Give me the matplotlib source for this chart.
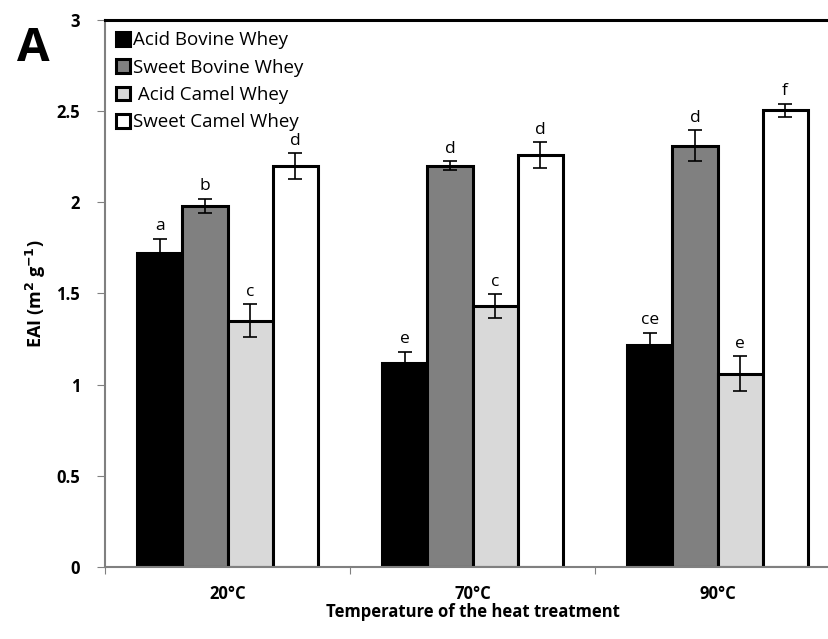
import numpy as np
from matplotlib import pyplot as plt

plt.rcParams['font.family'] = ['Open Sans', 'DejaVu Sans']

temps = ["20°C", "70°C", "90°C"]
series = ["Acid Bovine Whey", "Sweet Bovine Whey", " Acid Camel Whey", "Sweet Camel Whey"]
colors = ["#000000", "#808080", "#d9d9d9", "#ffffff"]

acid_bovine = [1.72, 1.12, 1.22]
sweet_bovine = [1.98, 2.20, 2.31]
acid_camel = [1.35, 1.43, 1.06]
sweet_camel = [2.20, 2.26, 2.505]

err_acid_bovine = [0.08, 0.06, 0.065]
err_sweet_bovine = [0.04, 0.025, 0.085]
err_acid_camel = [0.09, 0.065, 0.095]
err_sweet_camel = [0.07, 0.07, 0.035]

letters_acid_bovine = ["a", "e", "ce"]
letters_sweet_bovine = ["b", "d", "d"]
letters_acid_camel = ["c", "c", "e"]
letters_sweet_camel = ["d", "d", "f"]

values = [acid_bovine, sweet_bovine, acid_camel, sweet_camel]
errors = [err_acid_bovine, err_sweet_bovine, err_acid_camel, err_sweet_camel]
letters = [letters_acid_bovine, letters_sweet_bovine, letters_acid_camel, letters_sweet_camel]

fig = plt.figure(figsize=(8.29, 6.39), dpi=100)
ax = fig.add_axes([0.1267, 0.1127, 0.8866, 0.856])

x = np.arange(len(temps))
w = 0.184
for i in range(4):
    pos = x + (i - 1.5) * w
    ax.bar(pos, values[i], w, color=colors[i], edgecolor='black', linewidth=2.2,
           label=series[i], zorder=2)
    ax.errorbar(pos, values[i], yerr=errors[i], fmt='none', ecolor='black',
                elinewidth=1.2, capsize=5, capthick=1.2, zorder=3)
    for j in range(len(temps)):
        ax.text(pos[j], values[i][j] + errors[i][j] + 0.025, letters[i][j],
                ha='center', va='bottom', fontsize=12.5)

ax.set_xlim(-0.5, 2.5)
ax.set_ylim(0, 3)
ax.set_yticks([0, 0.5, 1, 1.5, 2, 2.5, 3])
ax.set_yticklabels(["0", "0.5", "1", "1.5", "2", "2.5", "3"], fontweight='bold', fontsize=12)
ax.set_xticks([-0.5, 0.5, 1.5, 2.5])
ax.set_xticklabels([])
ax.set_xticks(x, minor=True)
ax.set_xticklabels(temps, minor=True, fontweight='bold', fontsize=12)
ax.tick_params(axis='x', which='minor', length=0, pad=13)
ax.tick_params(axis='x', which='major', length=5, color='#808080')
ax.tick_params(axis='y', length=6, color='#808080', pad=12)

ax.spines['left'].set_color('#808080')
ax.spines['left'].set_linewidth(1.5)
ax.spines['bottom'].set_color('#808080')
ax.spines['bottom'].set_linewidth(1.5)
ax.spines['top'].set_linewidth(2.2)
ax.spines['right'].set_linewidth(2.2)

ax.set_xlabel("Temperature of the heat treatment", fontweight='bold', fontsize=12, labelpad=0)
ax.set_ylabel("EAI (m$^{\\mathbf{2}}$ g$^{\\mathbf{-1}}$)", fontweight='bold', fontsize=13, labelpad=6)

leg = ax.legend(loc='upper left', frameon=False, fontsize=13.5, handlelength=0.75,
                handleheight=0.75, handletextpad=0.15, labelspacing=0.5,
                borderaxespad=0.2, bbox_to_anchor=(0.0, 1.0))

fig.text(0.02, 0.905, "A", fontsize=34, fontweight='bold')

fig.savefig("out.png")
